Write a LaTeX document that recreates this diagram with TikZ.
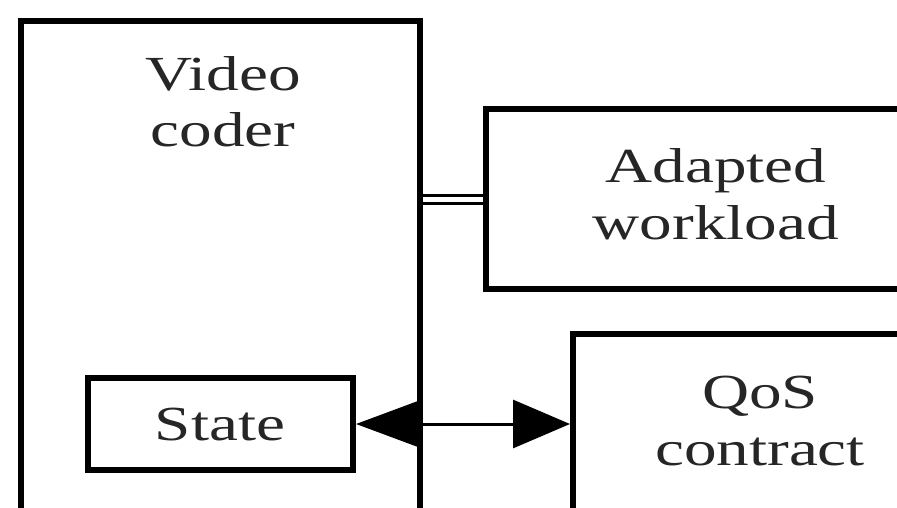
\documentclass[tikz,border=0pt]{standalone}
\usepackage{fontspec}
\setmainfont{Liberation Serif}[FakeStretch=1.33]
\usetikzlibrary{arrows.meta}
\begin{document}
\begin{tikzpicture}[x=1pt,y=-1pt,
  box/.style={draw, rectangle, line width=6pt, inner sep=0pt, anchor=north west},
  lbl/.style={font=\fontsize{49}{57}\selectfont, align=center, inner sep=0pt, anchor=base, text=black!85}]
\fill[white] (0,0) rectangle (897,508);
\clip (0,0) rectangle (897,508);
\node[box, minimum width=399pt, minimum height=600pt] (coder) at (18,18) {};
\node[box, minimum width=517pt, minimum height=180pt] (adapted) at (483,106) {};
\node[box, minimum width=430pt, minimum height=300pt] (qos) at (570,331) {};
\node[box, minimum width=265pt, minimum height=92pt] (state) at (85,375) {};
\node[lbl] (coderlbl) at (223,147) {Video\\coder};
\node[lbl] (adaptedlbl) at (716,239) {Adapted\\workload};
\node[lbl] (qoslbl) at (760,465) {QoS\\contract};
\node[lbl] (statelbl) at (220,440) {State};
\draw[double, line width=3pt, double distance=5pt] (adapted.west) -- (adapted.west -| coder.east);
\draw[{Triangle[length=63pt,width=46pt]}-{Triangle[length=57pt,width=48pt]}, line width=3pt] (state.east) -- (state.east -| qos.west);
\end{tikzpicture}
\end{document}
